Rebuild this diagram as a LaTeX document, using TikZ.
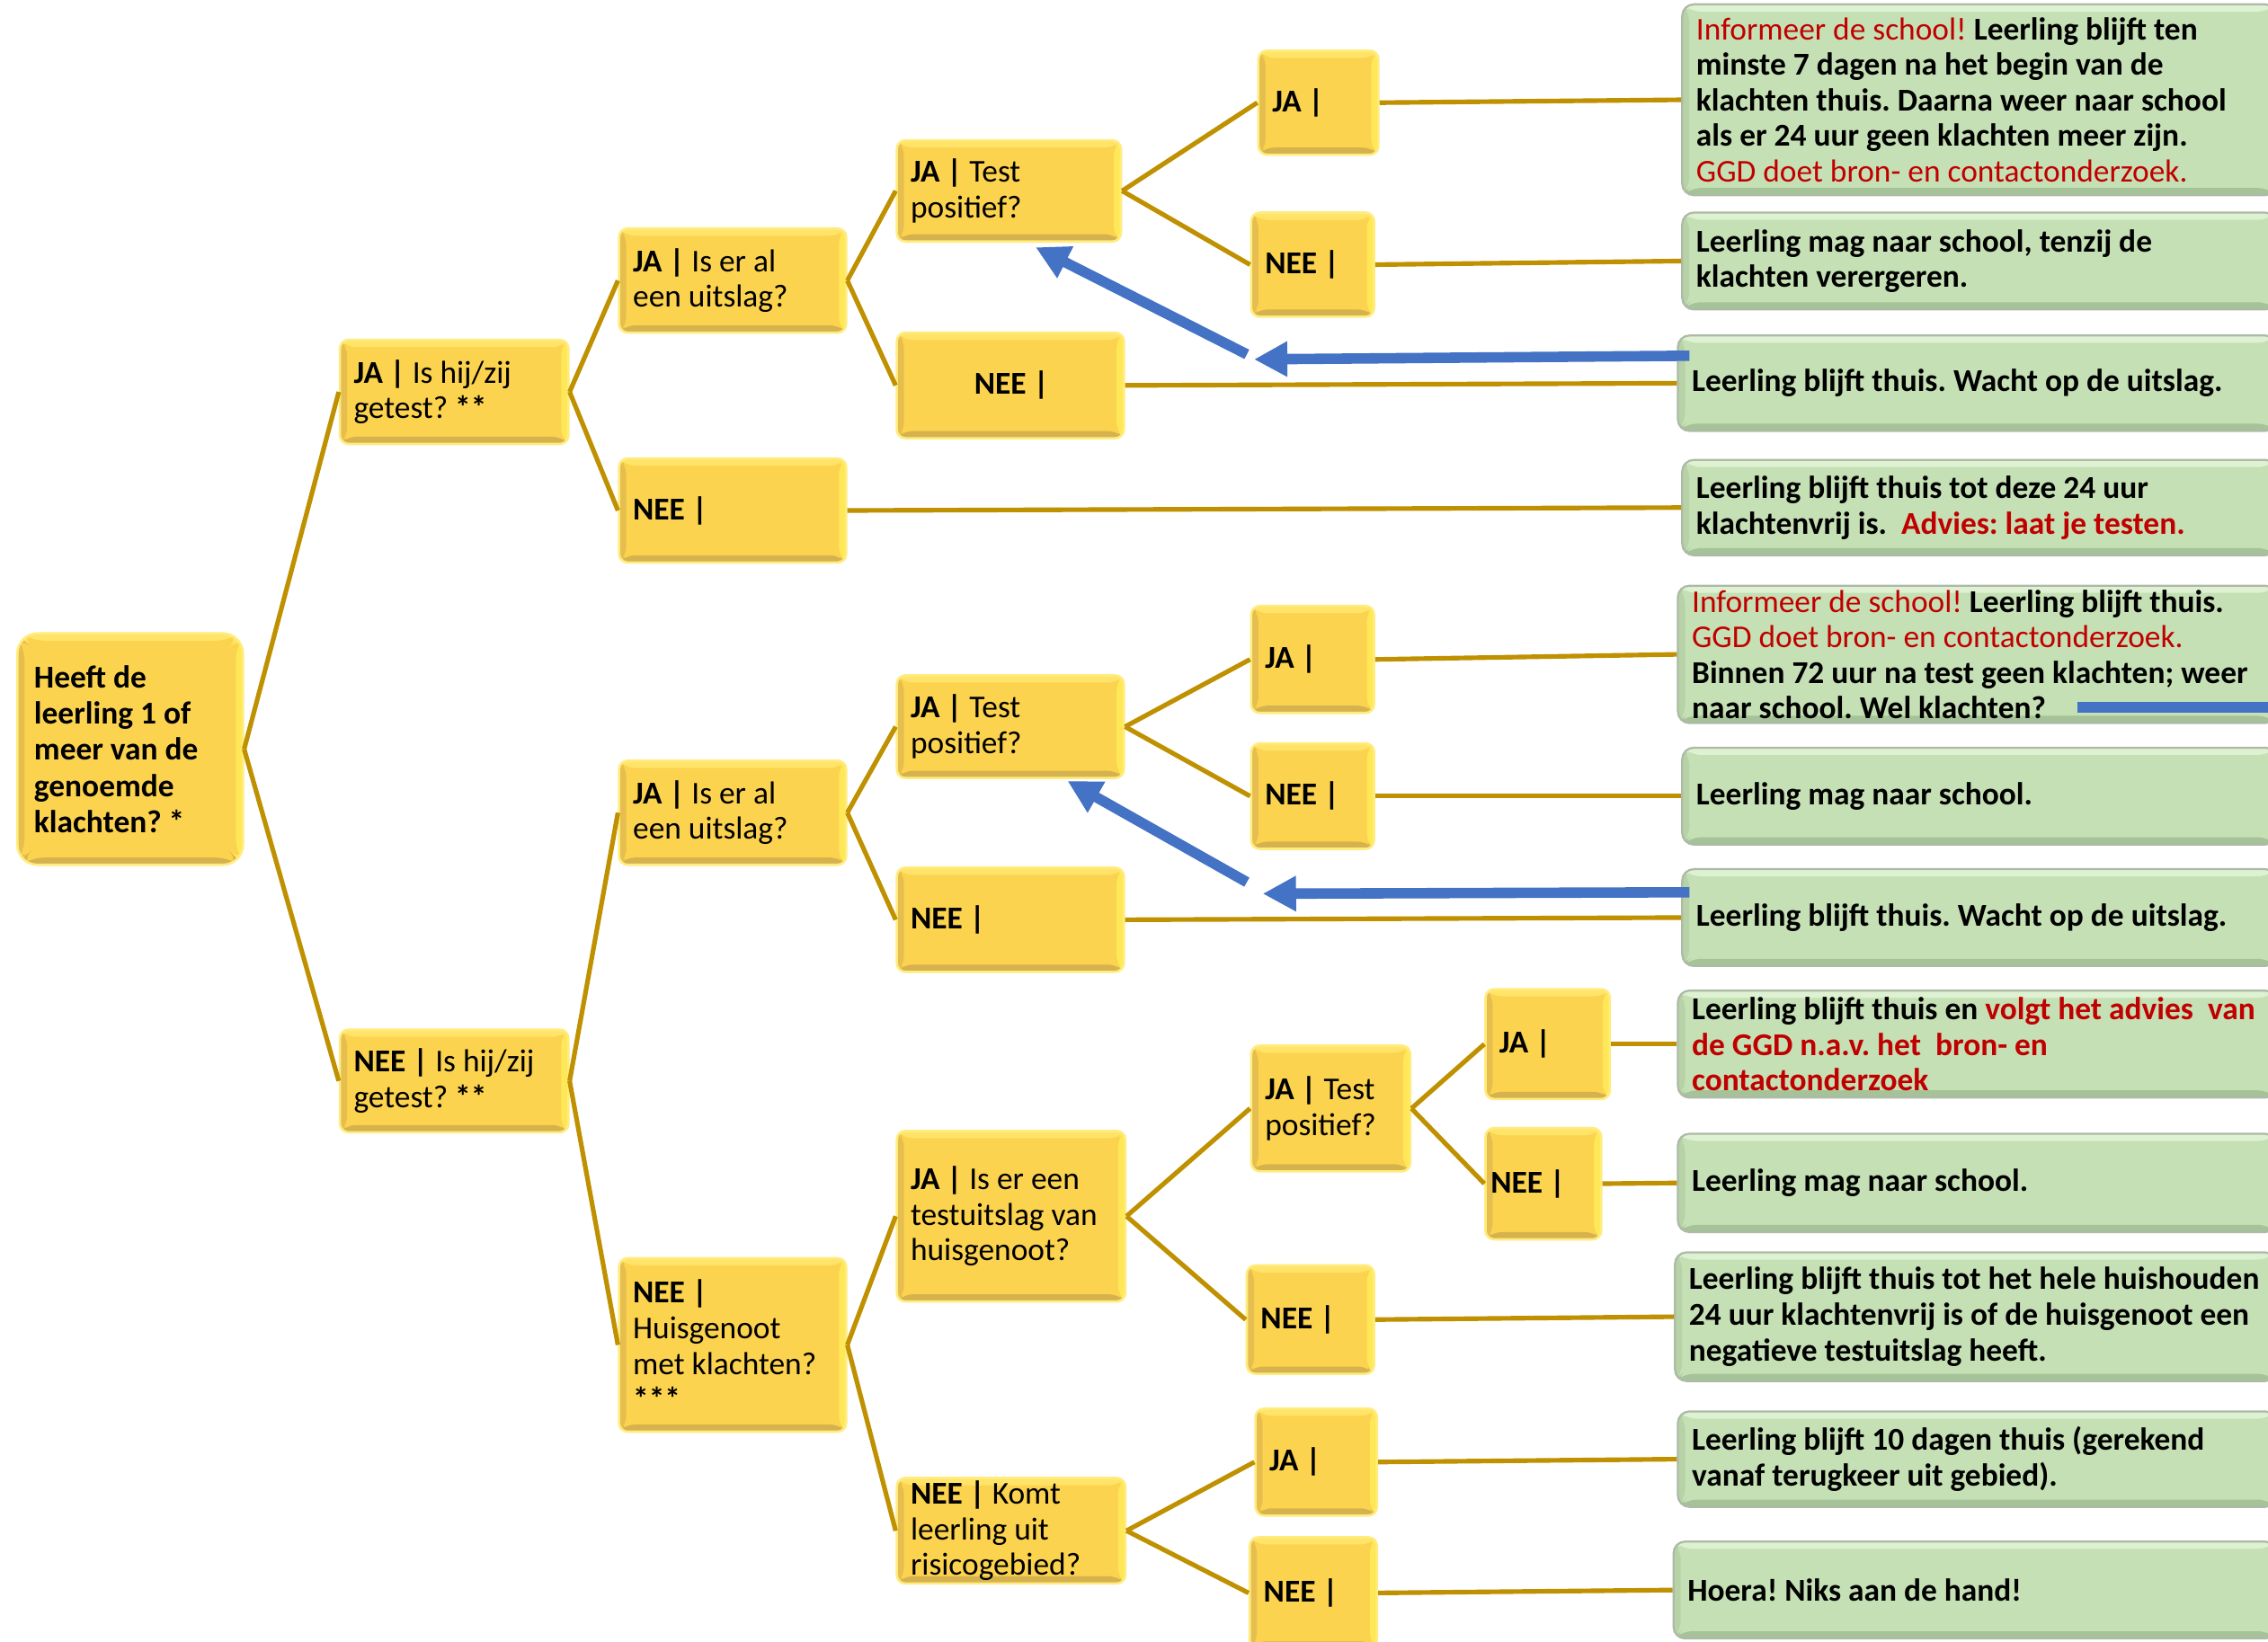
\documentclass[tikz,border=0pt]{standalone}
\usepackage{fontspec}
\setmainfont{Carlito}
\usetikzlibrary{arrows.meta}
\frenchspacing
\definecolor{gold}{RGB}{191,144,0}
\definecolor{bluearr}{RGB}{68,114,196}
\definecolor{redt}{RGB}{192,0,0}
\definecolor{yfill}{RGB}{252,211,78}
\definecolor{ytop}{RGB}{255,228,105}
\definecolor{yright}{RGB}{255,232,88}
\definecolor{ybot}{RGB}{214,178,78}
\definecolor{yleft}{RGB}{230,190,80}
\definecolor{yedge}{RGB}{255,236,125}
\definecolor{gfill}{RGB}{197,224,180}
\definecolor{gtop}{RGB}{222,241,210}
\definecolor{gright}{RGB}{212,234,198}
\definecolor{gbot}{RGB}{166,194,152}
\definecolor{gleft}{RGB}{182,210,166}
\definecolor{gedge}{RGB}{172,186,166}
\newcommand{\rd}[1]{\textcolor{redt}{#1}}
\newcommand{\rdm}[1]{\textcolor{redt}{\mdseries #1}}
\newcommand{\bx}[8][]{%
 \pgfmathsetmacro{\bxcx}{(#4+#6)/2}%
 \pgfmathsetmacro{\bxcy}{(#5+#7)/2}%
 \pgfmathsetmacro{\bxw}{(#6-#4)*0.5}%
 \pgfmathsetmacro{\bxh}{(#7-#5)*0.5}%
 \node[#2, minimum width=\bxw pt, minimum height=\bxh pt] (#3) at (\bxcx,\bxcy) {};
 \node[#2text, anchor=west, xshift=5pt, #1] (#3t) at (#3.west) {#8};}
\tikzset{
 bevel/.style n args={4}{path picture={
   \coordinate (bvA) at (path picture bounding box.north west);
   \coordinate (bvB) at (path picture bounding box.north east);
   \coordinate (bvC) at (path picture bounding box.south east);
   \coordinate (bvD) at (path picture bounding box.south west);
   \fill[#1] (bvA) -- (bvB) -- ([shift={(-2.5pt,-2.5pt)}]bvB) -- ([shift={(2.5pt,-2.5pt)}]bvA) -- cycle;
   \fill[#2] (bvB) -- (bvC) -- ([shift={(-2.5pt,2.5pt)}]bvC) -- ([shift={(-2.5pt,-2.5pt)}]bvB) -- cycle;
   \fill[#3] (bvC) -- (bvD) -- ([shift={(2.5pt,2.5pt)}]bvD) -- ([shift={(-2.5pt,2.5pt)}]bvC) -- cycle;
   \fill[#4] (bvD) -- (bvA) -- ([shift={(2.5pt,-2.5pt)}]bvA) -- ([shift={(2.5pt,2.5pt)}]bvD) -- cycle;
 }},
 ybox/.style={draw=yedge, line width=0.8pt, fill=yfill, rounded corners=3pt, inner sep=0pt,
   bevel={ytop}{yright}{ybot}{yleft}},
 rbox/.style={ybox, rounded corners=7pt},
 gbox/.style={draw=gedge, line width=0.7pt, fill=gfill, rounded corners=4pt, inner sep=0pt,
   bevel={gtop}{gright}{gbot}{gleft}},
 yboxtext/.style={inner sep=0pt, align=left, font=\fontsize{11}{12.3}\selectfont},
 rboxtext/.style={inner sep=0pt, align=left, font=\fontsize{11}{12.5}\selectfont\bfseries},
 gboxtext/.style={inner sep=0pt, align=left, font=\fontsize{11}{12.3}\selectfont\bfseries},
 conn/.style={draw=gold, line width=1.6pt},
 barrow/.style={draw=bluearr, line width=3.6pt, -{Triangle[length=11.5pt,width=11.5pt]}},
 bline/.style={draw=bluearr, line width=3.6pt},
}
\begin{document}
\begin{tikzpicture}[x=0.5pt,y=-0.5pt]
\useasboundingbox (0,0) rectangle (1568,1135);
\clip (0,0) rectangle (1568,1135);
\fill[white] (0,0) rectangle (1568,1135);
% yellow question boxes
\bx[xshift=1pt]{rbox}{R}{12}{438}{168}{598}{Heeft de\\leerling 1 of\\meer van de\\genoemde\\klachten? *}
\bx{ybox}{A1}{235}{235}{393}{307}{\textbf{JA |} Is hij/zij\\getest? \textbf{**}}
\bx{ybox}{A2}{235}{712}{393}{783}{\textbf{NEE |} Is hij/zij\\getest? \textbf{**}}
\bx{ybox}{B1}{428}{158}{585}{230}{\textbf{JA |} Is er al\\een uitslag?}
\bx{ybox}{B2}{428}{317}{585}{389}{\textbf{NEE |}}
\bx{ybox}{B3}{428}{526}{585}{598}{\textbf{JA |} Is er al\\een uitslag?}
\bx{ybox}{B4}{428}{870}{585}{990}{\textbf{NEE |}\\Huisgenoot\\met klachten?\\\textbf{***}}
\bx{ybox}{C1}{620}{97}{775}{167}{\textbf{JA |} Test\\positief?}
\bx[xshift=22pt]{ybox}{C2}{620}{230}{777}{303}{\textbf{NEE |}}
\bx{ybox}{C3}{620}{467}{777}{538}{\textbf{JA |} Test\\positief?}
\bx{ybox}{C4}{620}{600}{777}{672}{\textbf{NEE |}}
\bx{ybox}{C5}{620}{782}{778}{900}{\textbf{JA |} Is er een\\testuitslag van\\huisgenoot?}
\bx{ybox}{C6}{620}{1022}{778}{1095}{\textbf{NEE |} Komt\\leerling uit\\risicogebied?}
\bx{ybox}{D1}{870}{35}{953}{107}{\textbf{JA |}}
\bx{ybox}{D2}{865}{147}{950}{219}{\textbf{NEE |}}
\bx{ybox}{D3}{865}{419}{950}{493}{\textbf{JA |}}
\bx{ybox}{D4}{865}{514}{950}{587}{\textbf{NEE |}}
\bx{ybox}{D5}{865}{723}{975}{810}{\textbf{JA |} Test\\positief?}
\bx{ybox}{D6}{862}{875}{950}{950}{\textbf{NEE |}}
\bx{ybox}{D7}{868}{974}{952}{1048}{\textbf{JA |}}
\bx{ybox}{D8}{864}{1063}{952}{1140}{\textbf{NEE |}}
\bx{ybox}{E1}{1027}{684}{1113}{760}{\textbf{JA |}}
\bx[xshift=-3pt]{ybox}{E2}{1027}{780}{1107}{857}{\textbf{NEE |}}
% green outcome boxes
\bx{gbox}{G1}{1163}{3}{1574}{135}{\rdm{Informeer de school!} Leerling blijft ten\\minste 7 dagen na het begin van de\\klachten thuis. Daarna weer naar school\\als er 24 uur geen klachten meer zijn.\\\rdm{GGD doet bron- en contactonderzoek.}}
\bx{gbox}{G2}{1163}{147}{1574}{214}{Leerling mag naar school, tenzij de\\klachten verergeren.}
\bx{gbox}{G3}{1160}{232}{1574}{298}{Leerling blijft thuis. Wacht op de uitslag.}
\bx{gbox}{G4}{1163}{318}{1574}{384}{Leerling blijft thuis tot deze 24 uur\\klachtenvrij is.\ \ \rd{Advies: laat je testen.}}
\bx{gbox}{G5}{1160}{405}{1574}{500}{\rdm{Informeer de school!} Leerling blijft thuis.\\\rdm{GGD doet bron- en contactonderzoek.}\\Binnen 72 uur na test geen klachten; weer\\naar school. Wel klachten?}
\bx{gbox}{G6}{1163}{517}{1574}{584}{Leerling mag naar school.}
\bx{gbox}{G7}{1163}{601}{1574}{668}{Leerling blijft thuis. Wacht op de uitslag.}
\bx{gbox}{G8}{1160}{685}{1574}{759}{Leerling blijft thuis en \rd{volgt het advies\ \ van}\\\rd{de GGD n.a.v. het\ \ bron- en}\\\rd{contactonderzoek}}
\bx{gbox}{G9}{1160}{784}{1574}{852}{Leerling mag naar school.}
\bx{gbox}{G10}{1158}{866}{1574}{955}{Leerling blijft thuis tot het hele huishouden\\24 uur klachtenvrij is of de huisgenoot een\\negatieve testuitslag heeft.}
\bx{gbox}{G11}{1160}{976}{1574}{1042}{Leerling blijft 10 dagen thuis (gerekend\\vanaf terugkeer uit gebied).}
\bx{gbox}{G12}{1157}{1066}{1574}{1133}{Hoera! Niks aan de hand!}
% tree connectors
\foreach \p/\c in {R/A1,R/A2,A1/B1,A1/B2,A2/B3,A2/B4,B1/C1,B1/C2,B3/C3,B3/C4,B4/C5,B4/C6,
  C1/D1,C1/D2,C3/D3,C3/D4,C5/D5,C5/D6,C6/D7,C6/D8,D5/E1,D5/E2,
  D1/G1,D2/G2,C2/G3,B2/G4,D3/G5,D4/G6,C4/G7,E1/G8,E2/G9,D6/G10,D7/G11,D8/G12}
  \draw[conn] (\p.east) -- (\c.west);
% blue arrows
\coordinate (h1s) at (1168,246);
\coordinate (h1t) at (867,248.5);
\coordinate (d1s) at (862,245);
\coordinate (d1t) at (716,171);
\coordinate (h2s) at (1168,617);
\coordinate (h2t) at (873,618);
\coordinate (d2s) at (862,610);
\coordinate (d2t) at (738,540);
\coordinate (w1s) at (1436,489);
\coordinate (w1t) at (1575,489);
\draw[barrow] (h1s) -- (h1t);
\draw[barrow] (d1s) -- (d1t);
\draw[barrow] (h2s) -- (h2t);
\draw[barrow] (d2s) -- (d2t);
\draw[bline] (w1s) -- (w1t);
\end{tikzpicture}
\end{document}
